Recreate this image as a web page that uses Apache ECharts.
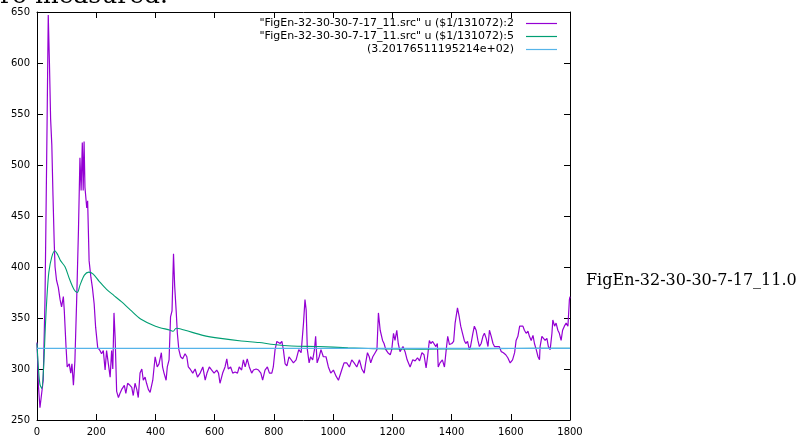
<!DOCTYPE html>
<html>
	<head>
		<meta charset="utf-8" />
		<title></title>
		<style>
			html, body { margin: 0; padding: 0; background: #fff; }
			#chart { width: 802px; height: 439px; }
		</style>
	</head>
	<body>
		<div id="chart"></div>
	</body>
	<script src="https://cdn.jsdelivr.net/npm/echarts@6/dist/echarts.min.js" type="text/javascript" charset="utf-8"></script>
	<script type="text/javascript">
		// column 2 (purple)
		var col2X = [0,5,10,16,21,27,30,34,38,42,46,50,54,58,61,66,72,78,83,89,92,98,102,109,114,118,123,128,134,140,
			145,149,153,156,159,162,168,171,176,182,187,193,198,205,213,218,224,230,235,241,247,252,256,260,264,269,275,280,286,295,
			300,306,314,320,325,331,337,342,348,354,359,365,370,376,382,391,399,406,412,420,424,429,436,440,446,451,456,461,465,470,
			474,479,485,492,500,506,511,517,526,534,542,551,560,568,574,582,590,598,607,613,618,627,635,641,646,654,661,669,677,683,
			691,697,703,710,717,725,731,740,748,756,762,770,778,785,793,798,804,810,821,827,832,838,844,851,855,866,875,884,892,900,
			905,909,913,919,924,931,937,941,946,953,959,967,976,984,992,1001,1010,1018,1024,1029,1037,1046,1055,1063,1071,1080,1089,1097,1105,1110,
			1116,1122,1127,1134,1142,1148,1153,1159,1167,1172,1178,1185,1193,1198,1204,1209,1215,1220,1226,1236,1243,1250,1260,1269,1277,1285,1292,1300,1307,1314,
			1319,1325,1330,1336,1341,1347,1352,1355,1361,1369,1376,1382,1387,1393,1401,1407,1412,1420,1426,1431,1437,1443,1448,1454,1460,1464,1472,1477,1483,1489,
			1494,1500,1506,1511,1517,1523,1528,1534,1540,1545,1553,1561,1568,1575,1583,1590,1598,1606,1613,1618,1624,1630,1635,1641,1646,1652,1658,1663,1669,1675,
			1680,1686,1692,1697,1699,1705,1710,1716,1722,1727,1733,1739,1742,1748,1753,1759,1764,1770,1775,1781,1787,1793,1798,1800];
		var col2Y = [326,283,262,263,289,368,440,540,647,600,545,520,470,425,400,387,380,368,361,371,358,322,302,305,296,305,284,308,368,436,
			507,475,522,475,523,478,458,465,406,390,380,364,341,321,318,315,318,299,318,305,292,318,300,355,330,278,272,276,280,284,
			276,286,284,282,274,286,280,272,296,300,289,292,286,280,277,289,312,302,305,316,302,296,289,302,309,351,357,413,381,357,
			335,319,312,310,315,312,302,300,296,300,292,296,302,289,296,302,299,296,299,296,286,296,302,310,300,302,296,297,296,302,
			299,309,302,310,302,296,299,300,299,296,289,299,302,296,296,302,319,327,325,327,319,305,303,312,312,306,309,319,316,345,
			368,358,319,306,312,309,319,332,306,312,319,312,312,302,296,299,293,289,288,299,306,306,302,309,306,302,309,300,296,306,
			316,312,306,312,316,319,355,338,328,325,319,316,314,319,335,328,338,325,317,322,317,309,302,309,308,311,308,316,314,301,
			312,328,325,327,328,322,325,302,306,309,302,319,332,324,325,327,345,360,351,342,335,328,325,327,319,322,335,342,338,328,
			322,325,332,335,330,322,338,332,325,322,322,322,317,316,314,311,306,309,316,328,332,342,343,342,338,335,337,332,328,333,
			325,319,312,309,322,332,333,328,330,322,319,335,348,342,345,338,335,328,338,342,345,342,368,371];

		// column 5 (green)
		var col5X = [0,5,10,16,22,28,33,40,50,60,70,80,95,110,125,136,145,160,175,190,210,235,260,285,315,350,400,450,460,470,
			500,560,620,690,750,800,860,950,1050,1150,1300,1450,1600,1800];
		var col5Y = [325,300,285,281,300,340,368,395,410,416,412,406,400,388,378,375,382,392,395,393,386,378,372,366,358,349,342,338,337,340,
			338,333,330,327.5,326,324,322.6,322,320.8,319.8,319.5,319.7,320.1,320.3];

		// constant
		var constVal = 3.20176511195214e+02;
		var constX = [0, 1800];

		var names = [
			'"FigEn-32-30-30-7-17_11.src" u ($1/131072):2',
			'"FigEn-32-30-30-7-17_11.src" u ($1/131072):5',
			'(3.20176511195214e+02)'
		];
		var colors = ['#9400d3', '#009e73', '#56b4e9'];

		function zip(a, b){
			var out = [];
			for (var i = 0; i < a.length; i++) {
				out.push([a[i], b[i]]);
			}
			return out;
		}

		var font = 'DejaVu Sans';
		var myChart = echarts.init(document.getElementById('chart'), null, {renderer: 'canvas'});

		function axisBase(){
			return {
				type: 'value',
				axisLine: {show: true, onZero: false, lineStyle: {color: '#000', width: 1}},
				axisTick: {show: true, inside: true, length: 6, lineStyle: {color: '#000'}},
				splitLine: {show: false},
				axisLabel: {show: true, color: '#000', fontFamily: font, fontSize: 10}
			};
		}
		var xb = axisBase(), xt = axisBase(), yl = axisBase(), yr = axisBase();
		xb.min = 0; xb.max = 1800; xb.interval = 200; xb.position = 'bottom'; xb.axisLabel.margin = 7;
		xb.axisLabel.formatter = function(v){ return String(v); };
		xt.min = 0; xt.max = 1800; xt.interval = 200; xt.position = 'top'; xt.axisLabel = {show: false};
		yl.min = 250; yl.max = 650; yl.interval = 50; yl.position = 'left'; yl.axisLabel.margin = 7;
		yr.min = 250; yr.max = 650; yr.interval = 50; yr.position = 'right'; yr.axisLabel = {show: false};

		// key drawn by hand, gnuplot style: text right aligned, sample line after it
		var graphics = [
			{type: 'text', x: 0, y: -4, style: {text: 'ro measured.', font: '25px "DejaVu Serif"', fill: '#000', verticalAlign: 'middle'}},
			{type: 'text', x: 586, y: 281, style: {text: 'FigEn-32-30-30-7-17_11.0', font: '16px "DejaVu Serif"', fill: '#000', verticalAlign: 'middle'}}
		];
		for (var i = 0; i < 3; i++) {
			var ky = 23 + i * 13;
			graphics.push({type: 'text', x: 514, y: ky, z: 10,
				style: {text: names[i], font: '11px "DejaVu Sans"', fill: '#000', align: 'right', verticalAlign: 'middle'}});
			graphics.push({type: 'line', z: 10, shape: {x1: 526, y1: ky + 0.5, x2: 557, y2: ky + 0.5},
				style: {stroke: colors[i], lineWidth: 1.2}});
		}

		var option = {
			animation: false,
			backgroundColor: '#fff',
			grid: {left: 37, right: 232, top: 12, bottom: 19},
			xAxis: [xb, xt],
			yAxis: [yl, yr],
			graphic: graphics,
			series: [
				{name: names[0], type: 'line', data: zip(col2X, col2Y), showSymbol: false, symbol: 'none',
					lineStyle: {color: colors[0], width: 1.2}, itemStyle: {color: colors[0]}},
				{name: names[1], type: 'line', data: zip(col5X, col5Y), showSymbol: false, symbol: 'none', smooth: 0.3,
					lineStyle: {color: colors[1], width: 1.1}, itemStyle: {color: colors[1]}},
				{name: names[2], type: 'line', data: zip(constX, [constVal, constVal]), showSymbol: false, symbol: 'none',
					lineStyle: {color: colors[2], width: 1.1}, itemStyle: {color: colors[2]}}
			]
		};
		myChart.setOption(option);
	</script>
</html>
